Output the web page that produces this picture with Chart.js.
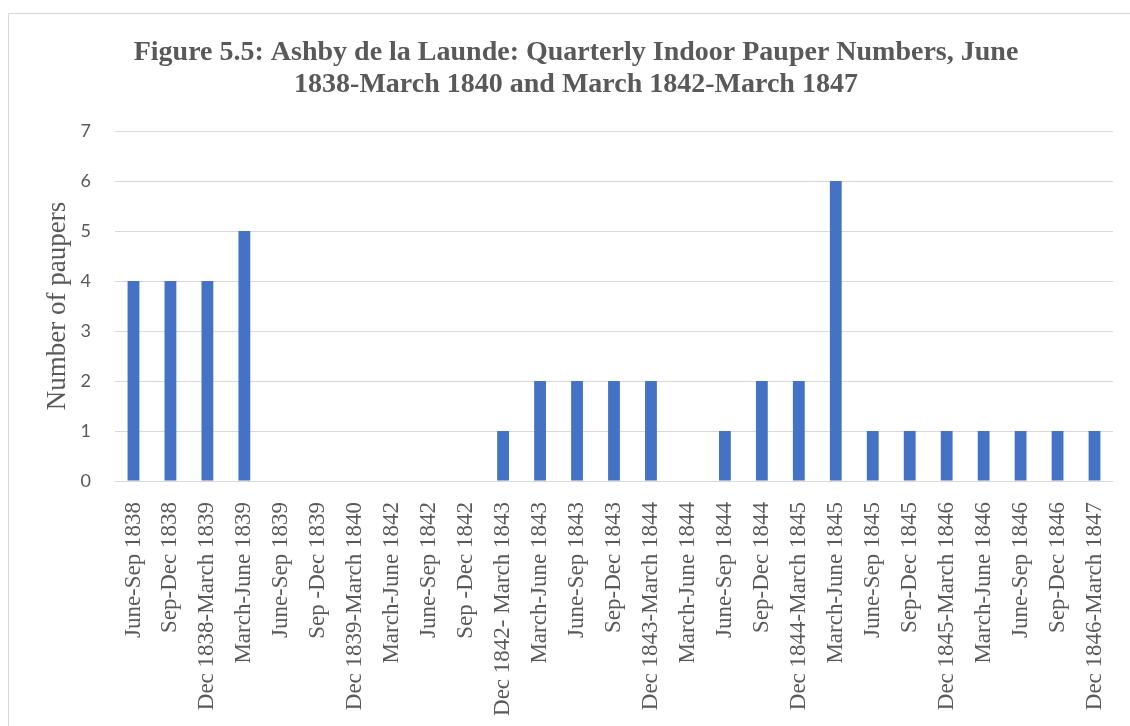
<!DOCTYPE html>
<html>
<head>
<meta charset="utf-8">
<title>Ashby de la Launde pauper numbers</title>
<script src="https://cdn.jsdelivr.net/npm/chart.js@4"></script>
<style>
        html, body { margin: 0; padding: 0; background: #fff; }
        #wrap { width: 1130px; height: 726px; position: relative; }
</style>
</head>
<body>
<div id="wrap"><canvas id="myChart"></canvas></div>
<script>
// quarters (two runs of records, 1838-40 and 1842-47)
const quarters = [
        'June-Sep 1838', 'Sep-Dec 1838', 'Dec 1838-March 1839', 'March-June 1839',
        'June-Sep 1839', 'Sep -Dec 1839', 'Dec 1839-March 1840', 'March-June 1842',
        'June-Sep 1842', 'Sep -Dec 1842', 'Dec 1842- March 1843', 'March-June 1843',
        'June-Sep 1843', 'Sep-Dec 1843', 'Dec 1843-March 1844', 'March-June 1844',
        'June-Sep 1844', 'Sep-Dec 1844', 'Dec 1844-March 1845', 'March-June 1845',
        'June-Sep 1845', 'Sep-Dec 1845', 'Dec 1845-March 1846', 'March-June 1846',
        'June-Sep 1846', 'Sep-Dec 1846', 'Dec 1846-March 1847'
];
const paupers = [4, 4, 4, 5, 0, 0, 0, 0, 0, 0, 1, 2, 2, 2, 2, 0, 1, 2, 2, 6, 1, 1, 1, 1, 1, 1, 1];
const yTicks = [0, 1, 2, 3, 4, 5, 6, 7];

const titleLines = [
        'Figure 5.5: Ashby de la Launde: Quarterly Indoor Pauper Numbers, June',
        '1838-March 1840 and March 1842-March 1847'
];

const grey = '#595959';
const serif = "'Liberation Serif', 'Times New Roman', serif";

// white page + thin frame round the chart
const frame = {
        id: 'frame',
        beforeDraw(chart) {
                const ctx = chart.ctx;
                ctx.save();
                ctx.fillStyle = '#fff';
                ctx.fillRect(0, 0, chart.width, chart.height);
                ctx.strokeStyle = '#D9D9D9';
                ctx.lineWidth = 1;
                ctx.strokeRect(8.5, 13.5, chart.width + 40, chart.height + 40);
                ctx.restore();
        }
};

const data = {
        labels: quarters,
        datasets: [{
                label: 'Number of paupers',
                data: paupers,
                backgroundColor: '#4472C4',
                barPercentage: 0.32,
                categoryPercentage: 1
        }]
};

const config = {
        type: 'bar',
        data: data,
        options: {
                responsive: true,
                maintainAspectRatio: false,
                animation: false,
                layout: { padding: { left: 39, right: 17, top: 0, bottom: 0 } },
                plugins: {
                        legend: { display: false },
                        tooltip: { enabled: false },
                        title: {
                                display: true,
                                text: titleLines,
                                color: grey,
                                font: { family: serif, size: 28, weight: 'bold', lineHeight: 1.143 },
                                padding: { top: 37, bottom: 30 }
                        }
                },
                scales: {
                        x: {
                                grid: { display: false },
                                border: { display: false },
                                ticks: {
                                        autoSkip: false,
                                        minRotation: 90,
                                        maxRotation: 90,
                                        padding: 13,
                                        color: grey,
                                        font: { family: serif, size: 23 }
                                },
                                afterFit(scale) {
                                        scale.height = 245;
                                        // the rotated end label should not push the plot inwards
                                        scale.paddingLeft = 0;
                                        scale.paddingRight = 0;
                                }
                        },
                        y: {
                                min: 0,
                                max: 7,
                                afterBuildTicks(scale) {
                                        scale.ticks = yTicks.map(v => ({ value: v }));
                                },
                                grid: { color: '#D9D9D9', lineWidth: 1, drawTicks: false },
                                border: { display: false },
                                ticks: {
                                        padding: 24,
                                        color: grey,
                                        font: { family: "Lato, 'Open Sans', sans-serif", size: 18 }
                                },
                                title: {
                                        display: true,
                                        text: 'Number of paupers',
                                        color: grey,
                                        font: { family: serif, size: 27, lineHeight: 1.2 },
                                        padding: { top: 3, bottom: 0 }
                                },
                                afterFit(scale) { scale.width = 76; }
                        }
                }
        },
        plugins: [frame]
};

const myChart = new Chart(document.getElementById('myChart'), config);
</script>
</body>
</html>
